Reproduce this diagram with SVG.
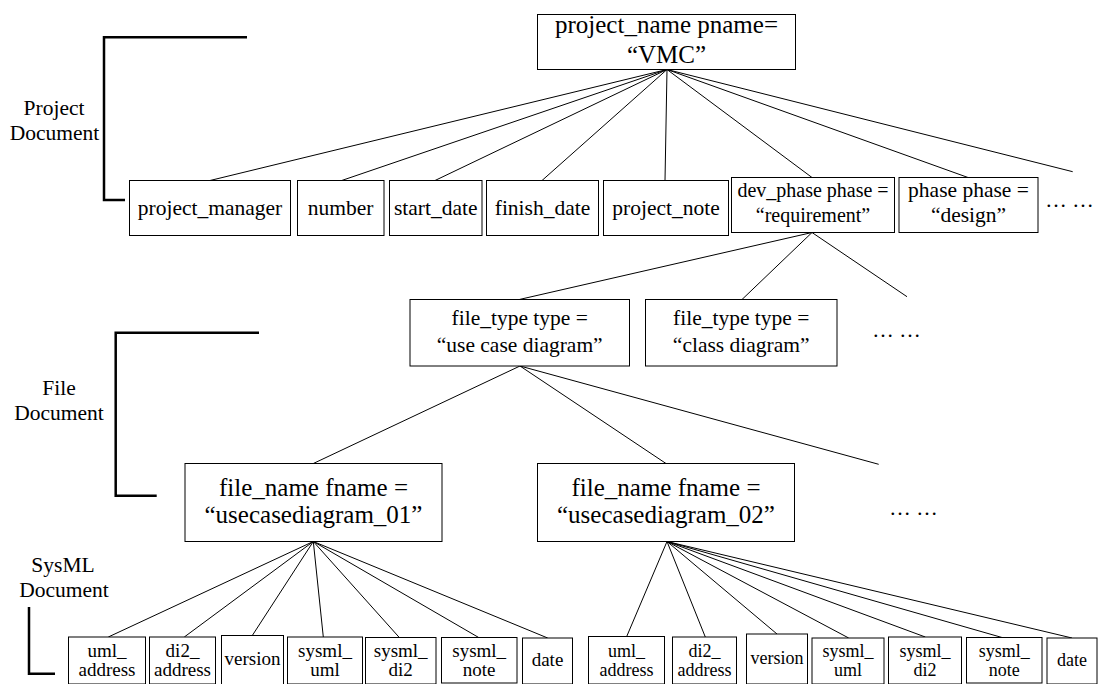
<svg xmlns="http://www.w3.org/2000/svg" width="1099" height="684" viewBox="0 0 1099 684">
<style>
  text { font-family: "Liberation Serif", "Times New Roman", serif; fill: #000; text-anchor: middle; }
  .box { fill: #fff; stroke: #000; stroke-width: 1; }
  .conn line { stroke: #000; stroke-width: 1; }
  .bracket { fill: none; stroke: #000; stroke-width: 2.5; }
  .f25 { font-size: 25px; }
  .f21 { font-size: 21.5px; }
  .f20 { font-size: 20px; }
  .f19 { font-size: 19px; }
  .f18 { font-size: 18px; }
</style>
<rect width="1099" height="684" fill="#fff"/>

<g id="brackets">
  <path class="bracket" d="M247,37.3 H104 V200 H125"/>
  <path class="bracket" d="M259,332.7 H115.7 V495.7 H156.7"/>
  <path class="bracket" d="M29,607 V673.7 H55"/>
  <text class="f21" x="54" y="115">Project</text>
  <text class="f21" x="54.5" y="140">Document</text>
  <text class="f21" x="59" y="395">File</text>
  <text class="f21" x="59" y="420">Document</text>
  <text class="f21" x="63" y="572">SysML</text>
  <text class="f21" x="64" y="597">Document</text>
</g>

<g class="conn" id="connectors">
  <line x1="667" y1="69.5" x2="210" y2="180.5"/>
  <line x1="667" y1="69.5" x2="341.7" y2="180.5"/>
  <line x1="667" y1="69.5" x2="435" y2="180.5"/>
  <line x1="667" y1="69.5" x2="542" y2="180.5"/>
  <line x1="667" y1="69.5" x2="665" y2="180.5"/>
  <line x1="667" y1="69.5" x2="812" y2="177.5"/>
  <line x1="667" y1="69.5" x2="968" y2="177.5"/>
  <line x1="667" y1="69.5" x2="1072.7" y2="171.7"/>
  <line x1="812" y1="232.5" x2="519.3" y2="299.5"/>
  <line x1="812" y1="232.5" x2="742" y2="299.5"/>
  <line x1="812" y1="232.5" x2="907" y2="296.7"/>
  <line x1="520" y1="366" x2="313.3" y2="463.5"/>
  <line x1="520" y1="366" x2="666" y2="463.5"/>
  <line x1="520" y1="366" x2="878.7" y2="464.3"/>
  <line x1="313.3" y1="541.5" x2="108.3" y2="637"/>
  <line x1="313.3" y1="541.5" x2="184.3" y2="637"/>
  <line x1="313.3" y1="541.5" x2="252.3" y2="635.5"/>
  <line x1="313.3" y1="541.5" x2="323.3" y2="637"/>
  <line x1="313.3" y1="541.5" x2="399.3" y2="637.5"/>
  <line x1="313.3" y1="541.5" x2="478.7" y2="637.5"/>
  <line x1="313.3" y1="541.5" x2="547.7" y2="638"/>
  <line x1="667" y1="541.5" x2="626.7" y2="636.5"/>
  <line x1="667" y1="541.5" x2="705.3" y2="637"/>
  <line x1="667" y1="541.5" x2="777" y2="634"/>
  <line x1="667" y1="541.5" x2="848.7" y2="638"/>
  <line x1="667" y1="541.5" x2="925.3" y2="637"/>
  <line x1="667" y1="541.5" x2="1002" y2="637.5"/>
  <line x1="667" y1="541.5" x2="1072" y2="638"/>
</g>

<g id="project_name">
  <rect class="box" x="537.5" y="14.5" width="258" height="55"/>
  <text class="f25" x="666.5" y="33">project_name pname=</text>
  <text class="f25" x="666.5" y="63">“VMC”</text>
</g>

<g id="project_manager">
  <rect class="box" x="129.5" y="180.5" width="161" height="55"/>
  <text class="f21" x="210" y="215">project_manager</text>
</g>
<g id="number">
  <rect class="box" x="297.5" y="180.5" width="86.5" height="55"/>
  <text class="f21" x="340.7" y="215">number</text>
</g>
<g id="start_date">
  <rect class="box" x="389.5" y="180.5" width="92.5" height="55"/>
  <text class="f21" x="435.7" y="215">start_date</text>
</g>
<g id="finish_date">
  <rect class="box" x="486.5" y="180.5" width="112" height="55"/>
  <text class="f21" x="542.5" y="215">finish_date</text>
</g>
<g id="project_note">
  <rect class="box" x="603.5" y="180.5" width="125" height="55"/>
  <text class="f21" x="666" y="215">project_note</text>
</g>
<g id="dev_phase">
  <rect class="box" x="731.5" y="177.5" width="163" height="55"/>
  <text class="f20" x="813" y="197">dev_phase phase =</text>
  <text class="f20" x="813" y="222">“requirement”</text>
</g>
<g id="phase_design">
  <rect class="box" x="899" y="177.5" width="139" height="55"/>
  <text class="f21" x="968.5" y="197">phase phase =</text>
  <text class="f21" x="968.5" y="222">“design”</text>
</g>
<g id="more_phases">
  <text class="f21" x="1069.5" y="206.5">… …</text>
</g>

<g id="file_type_usecase">
  <rect class="box" x="410" y="299.5" width="219.5" height="66.5"/>
  <text class="f21" x="519.7" y="325">file_type type =</text>
  <text class="f21" x="519.7" y="352">“use case diagram”</text>
</g>
<g id="file_type_class">
  <rect class="box" x="645.5" y="299.5" width="191.5" height="66.5"/>
  <text class="f21" x="741.2" y="325">file_type type =</text>
  <text class="f21" x="741.2" y="352">“class diagram”</text>
</g>
<g id="more_types">
  <text class="f21" x="896.5" y="337">… …</text>
</g>

<g id="file_name_01">
  <rect class="box" x="185" y="463.5" width="257" height="78"/>
  <text class="f25" x="313.5" y="496">file_name fname =</text>
  <text class="f25" x="313.5" y="523">“usecasediagram_01”</text>
</g>
<g id="file_name_02">
  <rect class="box" x="537.5" y="463.5" width="257" height="78"/>
  <text class="f25" x="666" y="496">file_name fname =</text>
  <text class="f25" x="666" y="523">“usecasediagram_02”</text>
</g>
<g id="more_files">
  <text class="f21" x="913.5" y="515">… …</text>
</g>

<g id="l_uml_address">
  <rect class="box" x="68.5" y="637" width="77" height="47"/>
  <text class="f19" x="107" y="657">uml_</text>
  <text class="f19" x="107" y="676">address</text>
</g>
<g id="l_di2_address">
  <rect class="box" x="149.5" y="637" width="66" height="47"/>
  <text class="f19" x="182.5" y="657">di2_</text>
  <text class="f19" x="182.5" y="676">address</text>
</g>
<g id="l_version">
  <rect class="box" x="221.5" y="635.5" width="62" height="49"/>
  <text class="f19" x="252.5" y="665">version</text>
</g>
<g id="l_sysml_uml">
  <rect class="box" x="287.5" y="637" width="75" height="47"/>
  <text class="f19" x="325" y="657">sysml_</text>
  <text class="f19" x="325" y="676">uml</text>
</g>
<g id="l_sysml_di2">
  <rect class="box" x="365.5" y="637.5" width="70.5" height="46.5"/>
  <text class="f19" x="400.7" y="657">sysml_</text>
  <text class="f19" x="400.7" y="676">di2</text>
</g>
<g id="l_sysml_note">
  <rect class="box" x="441.5" y="637.5" width="75.5" height="45.5"/>
  <text class="f19" x="479.2" y="657">sysml_</text>
  <text class="f19" x="479.2" y="676">note</text>
</g>
<g id="l_date">
  <rect class="box" x="522.5" y="638" width="50" height="46"/>
  <text class="f19" x="547.5" y="666">date</text>
</g>

<g id="r_uml_address">
  <rect class="box" x="588.5" y="636.5" width="76" height="47.5"/>
  <text class="f18" x="626.5" y="657">uml_</text>
  <text class="f18" x="626.5" y="676">address</text>
</g>
<g id="r_di2_address">
  <rect class="box" x="672.5" y="637" width="64" height="47"/>
  <text class="f18" x="704.5" y="657">di2_</text>
  <text class="f18" x="704.5" y="676">address</text>
</g>
<g id="r_version">
  <rect class="box" x="746.5" y="634" width="61" height="50"/>
  <text class="f18" x="777" y="664">version</text>
</g>
<g id="r_sysml_uml">
  <rect class="box" x="812" y="638" width="72" height="46"/>
  <text class="f18" x="848" y="657">sysml_</text>
  <text class="f18" x="848" y="676">uml</text>
</g>
<g id="r_sysml_di2">
  <rect class="box" x="888.5" y="637" width="73" height="47"/>
  <text class="f18" x="925" y="657">sysml_</text>
  <text class="f18" x="925" y="676">di2</text>
</g>
<g id="r_sysml_note">
  <rect class="box" x="966.5" y="637.5" width="75.5" height="45.5"/>
  <text class="f18" x="1004.2" y="657">sysml_</text>
  <text class="f18" x="1004.2" y="676">note</text>
</g>
<g id="r_date">
  <rect class="box" x="1047" y="638" width="50" height="46"/>
  <text class="f18" x="1072" y="666">date</text>
</g>
</svg>
